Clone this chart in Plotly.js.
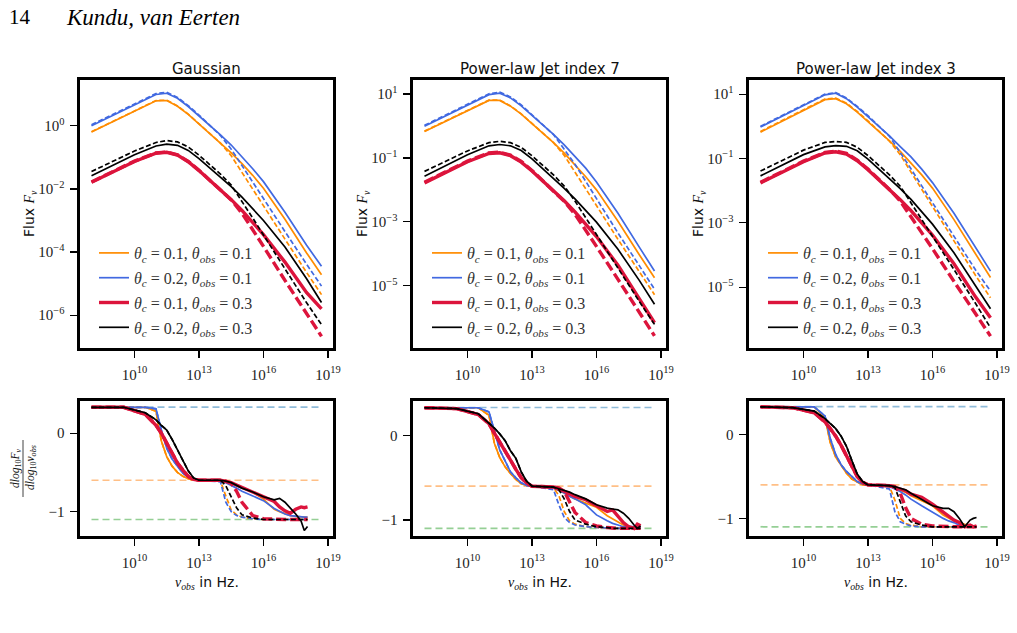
<!DOCTYPE html>
<html>
<head>
<meta charset="utf-8">
<script src="https://cdn.plot.ly/plotly-3.0.1.min.js"></script>
<style>
  html, body { margin: 0; padding: 0; background: #fff; }
  #fig { width: 1017px; height: 633px; }
</style>
</head>
<body>
<div id="fig"></div>
<script>
// ---------------------------------------------------------------------------
// Spectra: log10 of observed frequency (Hz) and log10 of flux F_nu.
// Series order in every block: [θc=0.1,θobs=0.1], [θc=0.2,θobs=0.1],
// [θc=0.1,θobs=0.3], [θc=0.2,θobs=0.3]. Solid = full model, dashed = no cooling smoothing.
// ---------------------------------------------------------------------------
const logNuSpectrum = [8, 10, 11, 11.5, 12, 12.5, 13, 14, 14.5, 15, 15.5, 16, 17, 18, 18.7];

const gaussianFluxSolid = [
  [-0.2, 0.46, 0.79, 0.8, 0.62, 0.36, 0.06, -0.54, -0.86, -1.2, -1.57, -1.98, -2.96, -4.02, -4.72],
  [0.0, 0.66, 0.99, 1.03, 0.87, 0.61, 0.32, -0.29, -0.61, -0.97, -1.36, -1.77, -2.74, -3.78, -4.45],
  [-1.79, -1.13, -0.87, -0.84, -0.93, -1.14, -1.42, -2.02, -2.34, -2.68, -3.05, -3.45, -4.32, -5.28, -5.8],
  [-1.58, -0.92, -0.64, -0.58, -0.62, -0.78, -1.04, -1.63, -1.93, -2.26, -2.62, -3.0, -3.84, -4.84, -5.6]
];
const gaussianFluxDashed = [
  [-0.19, 0.47, 0.8, 0.81, 0.63, 0.37, 0.07, -0.55, -0.95, -1.47, -2.0, -2.52, -3.59, -4.64, -5.35],
  [0.03, 0.69, 1.02, 1.06, 0.9, 0.64, 0.34, -0.31, -0.74, -1.26, -1.79, -2.31, -3.35, -4.38, -5.08],
  [-1.78, -1.12, -0.86, -0.83, -0.92, -1.13, -1.41, -2.02, -2.35, -2.77, -3.28, -3.82, -4.9, -5.97, -6.67],
  [-1.45, -0.8, -0.53, -0.47, -0.51, -0.67, -0.93, -1.53, -1.88, -2.38, -2.92, -3.46, -4.55, -5.6, -6.3]
];

const powerLaw7FluxSolid = [
  [-0.17, 0.49, 0.8, 0.8, 0.62, 0.37, 0.08, -0.52, -0.85, -1.21, -1.59, -2.0, -2.98, -4.04, -4.75],
  [-0.01, 0.65, 0.98, 1.03, 0.88, 0.63, 0.34, -0.26, -0.59, -0.94, -1.32, -1.75, -2.73, -3.8, -4.54],
  [-1.78, -1.12, -0.86, -0.84, -0.93, -1.13, -1.41, -2.02, -2.34, -2.69, -3.06, -3.46, -4.36, -5.4, -6.16],
  [-1.57, -0.9, -0.62, -0.58, -0.62, -0.77, -1.03, -1.63, -1.95, -2.28, -2.63, -3.01, -3.86, -4.84, -5.58]
];
const powerLaw7FluxDashed = [
  [-0.16, 0.5, 0.81, 0.81, 0.63, 0.38, 0.09, -0.52, -0.92, -1.43, -1.96, -2.49, -3.55, -4.58, -5.28],
  [0.02, 0.68, 1.01, 1.06, 0.91, 0.66, 0.36, -0.27, -0.73, -1.2, -1.73, -2.27, -3.35, -4.38, -5.11],
  [-1.76, -1.1, -0.84, -0.82, -0.91, -1.11, -1.39, -2.02, -2.36, -2.76, -3.25, -3.77, -4.8, -5.83, -6.57],
  [-1.42, -0.78, -0.52, -0.48, -0.52, -0.67, -0.93, -1.53, -1.88, -2.35, -2.87, -3.4, -4.46, -5.5, -6.21]
];

const powerLaw3FluxSolid = [
  [-0.18, 0.48, 0.83, 0.86, 0.7, 0.44, 0.15, -0.45, -0.78, -1.13, -1.51, -1.92, -2.9, -3.96, -4.7],
  [-0.02, 0.64, 0.98, 1.03, 0.86, 0.6, 0.31, -0.3, -0.63, -0.95, -1.33, -1.75, -2.7, -3.76, -4.5],
  [-1.76, -1.1, -0.83, -0.79, -0.86, -1.07, -1.35, -1.96, -2.28, -2.62, -2.99, -3.38, -4.27, -5.3, -5.95],
  [-1.54, -0.88, -0.64, -0.6, -0.62, -0.76, -1.02, -1.62, -1.94, -2.27, -2.64, -3.04, -3.93, -4.97, -5.67]
];
const powerLaw3FluxDashed = [
  [-0.16, 0.5, 0.85, 0.88, 0.72, 0.46, 0.17, -0.46, -0.88, -1.42, -1.96, -2.5, -3.58, -4.63, -5.33],
  [0.0, 0.66, 1.0, 1.05, 0.88, 0.62, 0.33, -0.31, -0.8, -1.32, -1.85, -2.38, -3.44, -4.46, -5.12],
  [-1.74, -1.08, -0.81, -0.77, -0.84, -1.05, -1.33, -1.96, -2.32, -2.8, -3.3, -3.8, -4.82, -5.82, -6.52],
  [-1.39, -0.74, -0.5, -0.47, -0.5, -0.65, -0.91, -1.51, -1.86, -2.37, -2.9, -3.42, -4.45, -5.5, -6.26]
];

// ---------------------------------------------------------------------------
// Local spectral index d log10 F_nu / d log10 nu_obs
// ---------------------------------------------------------------------------
const logNuSlope = [8, 9.5, 10.5, 11, 11.25, 11.5, 11.75, 12, 12.25, 12.5, 12.75, 13,
                    14, 14.25, 14.5, 14.75, 15, 15.5, 16, 16.5, 16.75, 17, 17.25, 17.5, 17.75, 17.9, 18.05];

const gaussianSlopeSolid = [
  [0.33, 0.33, 0.33, 0.28, -0.1, -0.3, -0.42, -0.5, -0.55, -0.58, -0.6, -0.6, -0.6, -0.61, -0.63, -0.67, -0.7, -0.75, -0.84, -0.97, -1.0, -1.03, -1.05, -1.06, -1.07, -1.07, -1.07],
  [0.33, 0.33, 0.33, 0.31, 0.04, -0.19, -0.33, -0.42, -0.51, -0.56, -0.59, -0.6, -0.61, -0.63, -0.66, -0.7, -0.74, -0.8, -0.86, -0.96, -1.0, -1.03, -1.05, -1.06, -1.07, -1.07, -1.07],
  [0.33, 0.33, 0.24, 0.1, 0.0, -0.12, -0.26, -0.38, -0.47, -0.55, -0.59, -0.6, -0.6, -0.61, -0.63, -0.66, -0.69, -0.76, -0.82, -0.87, -0.94, -0.99, -1.02, -0.97, -0.94, -0.95, -0.94],
  [0.33, 0.33, 0.26, 0.17, 0.1, 0.04, -0.08, -0.22, -0.36, -0.48, -0.57, -0.6, -0.6, -0.61, -0.63, -0.67, -0.7, -0.75, -0.81, -0.85, -0.83, -0.88, -0.95, -1.03, -1.12, -1.24, -1.19]
];
const gaussianSlopeDashed = [
  [0.33, 0.33, 0.33, 0.28, -0.1, -0.3, -0.42, -0.5, -0.55, -0.58, -0.6, -0.6, -0.61, -0.8, -0.98, -1.04, -1.07, -1.09, -1.1, -1.1, -1.1, -1.1, -1.1, -1.1, -1.1, -1.1, -1.1],
  [0.33, 0.33, 0.33, 0.31, 0.04, -0.19, -0.33, -0.42, -0.51, -0.56, -0.59, -0.6, -0.62, -0.88, -1.0, -1.05, -1.07, -1.09, -1.1, -1.1, -1.1, -1.1, -1.1, -1.1, -1.1, -1.1, -1.1],
  [0.33, 0.33, 0.24, 0.1, 0.0, -0.12, -0.26, -0.38, -0.47, -0.55, -0.59, -0.6, -0.6, -0.61, -0.64, -0.74, -0.88, -1.05, -1.09, -1.1, -1.1, -1.1, -1.1, -1.1, -1.1, -1.1, -1.1],
  [0.33, 0.33, 0.26, 0.17, 0.1, 0.04, -0.08, -0.22, -0.36, -0.48, -0.57, -0.6, -0.6, -0.67, -0.81, -0.95, -1.04, -1.08, -1.1, -1.1, -1.1, -1.1, -1.1, -1.1, -1.1, -1.1, -1.1]
];

const powerLaw7SlopeSolid = [
  [0.33, 0.33, 0.33, 0.24, -0.09, -0.26, -0.37, -0.45, -0.52, -0.57, -0.59, -0.6, -0.62, -0.65, -0.68, -0.72, -0.75, -0.8, -0.85, -0.95, -0.99, -1.03, -1.06, -1.08, -1.09, -1.09, -1.1],
  [0.33, 0.33, 0.33, 0.28, 0.07, -0.17, -0.3, -0.43, -0.5, -0.56, -0.59, -0.6, -0.62, -0.65, -0.68, -0.72, -0.75, -0.82, -0.94, -1.01, -1.04, -1.06, -1.08, -1.08, -1.08, -1.08, -1.09],
  [0.33, 0.32, 0.25, 0.14, 0.03, -0.08, -0.2, -0.29, -0.4, -0.5, -0.56, -0.6, -0.61, -0.63, -0.66, -0.69, -0.72, -0.76, -0.83, -0.9, -0.88, -0.95, -1.03, -1.08, -1.1, -1.05, -1.07],
  [0.33, 0.32, 0.26, 0.15, 0.09, 0.02, -0.06, -0.18, -0.27, -0.43, -0.54, -0.6, -0.61, -0.63, -0.65, -0.67, -0.7, -0.75, -0.82, -0.86, -0.87, -0.88, -0.92, -0.98, -1.06, -1.1, -1.07]
];
const powerLaw7SlopeDashed = [
  [0.33, 0.33, 0.33, 0.24, -0.09, -0.26, -0.37, -0.45, -0.52, -0.57, -0.59, -0.6, -0.62, -0.71, -0.9, -1.01, -1.05, -1.08, -1.09, -1.1, -1.1, -1.1, -1.1, -1.1, -1.1, -1.1, -1.1],
  [0.33, 0.33, 0.33, 0.28, 0.07, -0.17, -0.3, -0.43, -0.5, -0.56, -0.59, -0.6, -0.64, -0.82, -0.97, -1.03, -1.06, -1.08, -1.09, -1.1, -1.1, -1.1, -1.1, -1.1, -1.1, -1.1, -1.1],
  [0.33, 0.32, 0.25, 0.14, 0.03, -0.08, -0.2, -0.29, -0.4, -0.5, -0.56, -0.6, -0.61, -0.62, -0.66, -0.79, -0.91, -1.03, -1.07, -1.09, -1.1, -1.1, -1.1, -1.1, -1.1, -1.1, -1.1],
  [0.33, 0.32, 0.26, 0.15, 0.09, 0.02, -0.06, -0.18, -0.27, -0.43, -0.54, -0.6, -0.61, -0.64, -0.75, -0.9, -1.0, -1.05, -1.08, -1.09, -1.1, -1.1, -1.1, -1.1, -1.1, -1.1, -1.1]
];

const powerLaw3SlopeSolid = [
  [0.33, 0.33, 0.33, 0.2, -0.1, -0.27, -0.37, -0.46, -0.53, -0.57, -0.6, -0.6, -0.61, -0.63, -0.66, -0.69, -0.73, -0.79, -0.85, -0.96, -1.0, -1.03, -1.05, -1.07, -1.08, -1.09, -1.1],
  [0.33, 0.33, 0.33, 0.22, -0.05, -0.24, -0.36, -0.44, -0.5, -0.56, -0.59, -0.6, -0.62, -0.65, -0.68, -0.72, -0.77, -0.85, -0.93, -1.0, -1.03, -1.05, -1.08, -1.09, -1.1, -1.1, -1.1],
  [0.33, 0.32, 0.26, 0.15, 0.07, -0.02, -0.13, -0.26, -0.38, -0.5, -0.57, -0.6, -0.61, -0.63, -0.65, -0.67, -0.71, -0.75, -0.83, -0.93, -0.98, -1.02, -1.05, -1.1, -1.08, -1.1, -1.09],
  [0.33, 0.32, 0.28, 0.19, 0.13, 0.07, -0.02, -0.14, -0.31, -0.47, -0.56, -0.6, -0.61, -0.62, -0.64, -0.66, -0.7, -0.77, -0.85, -0.88, -0.88, -0.92, -1.0, -1.1, -1.02, -1.0, -0.99]
];
const powerLaw3SlopeDashed = [
  [0.33, 0.33, 0.33, 0.2, -0.1, -0.27, -0.37, -0.46, -0.53, -0.57, -0.6, -0.6, -0.62, -0.78, -1.0, -1.06, -1.08, -1.1, -1.1, -1.1, -1.1, -1.1, -1.1, -1.1, -1.1, -1.1, -1.1],
  [0.33, 0.33, 0.33, 0.22, -0.05, -0.24, -0.36, -0.44, -0.5, -0.56, -0.59, -0.6, -0.65, -0.92, -1.04, -1.07, -1.09, -1.1, -1.1, -1.1, -1.1, -1.1, -1.1, -1.1, -1.1, -1.1, -1.1],
  [0.33, 0.32, 0.26, 0.15, 0.07, -0.02, -0.13, -0.26, -0.38, -0.5, -0.57, -0.6, -0.61, -0.62, -0.7, -0.87, -1.0, -1.07, -1.09, -1.1, -1.1, -1.1, -1.1, -1.1, -1.1, -1.1, -1.1],
  [0.33, 0.32, 0.28, 0.19, 0.13, 0.07, -0.02, -0.14, -0.31, -0.47, -0.56, -0.6, -0.61, -0.63, -0.8, -0.97, -1.04, -1.08, -1.1, -1.1, -1.1, -1.1, -1.1, -1.1, -1.1, -1.1, -1.1]
];

// Asymptotic synchrotron indices: 1/3, -(p-1)/2, -p/2 for p = 2.2
const refSlopes = [0.333, -0.6, -1.1];
const refLogNu = [8, 18.7];

const seriesLabels = [
  '<i>θ</i><sub><i>c</i></sub> = 0.1, <i>θ</i><sub><i>obs</i></sub> = 0.1',
  '<i>θ</i><sub><i>c</i></sub> = 0.2, <i>θ</i><sub><i>obs</i></sub> = 0.1',
  '<i>θ</i><sub><i>c</i></sub> = 0.1, <i>θ</i><sub><i>obs</i></sub> = 0.3',
  '<i>θ</i><sub><i>c</i></sub> = 0.2, <i>θ</i><sub><i>obs</i></sub> = 0.3'
];
const panelTitles = ['Gaussian', 'Power-law Jet index 7', 'Power-law Jet index 3'];
const fluxTickExpGaussian = [0, -2, -4, -6];
const fluxTickExpPowerLaw = [1, -1, -3, -5];
const nuTickExp = [10, 13, 16, 19];
const slopeTicks = [0, -1];

// ---------------------------------------------------------------------------
// Styling
// ---------------------------------------------------------------------------
const W = 1017, H = 633;
const SERIES_COLORS = ['#ff8c00', '#4169e1', '#dc143c', '#000000'];
const SERIES_WIDTHS = [1.7, 1.7, 3.4, 1.7];
const SERIES_DASH = ['5px,2.5px', '5px,2.5px', '10px,4px', '5px,2.5px'];
const REF_COLORS = ['rgba(31,119,180,0.5)', 'rgba(255,127,14,0.5)', 'rgba(44,160,44,0.5)'];
const SERIF = 'Liberation Serif, DejaVu Serif, serif';
const SANS = 'DejaVu Sans, Liberation Sans, sans-serif';

const colPx = [[80, 333], [413, 666], [749, 1002]];
const topPx = [80, 348];
const botPx = [401, 536];
const xRangeLog = [7.465, 19.235];

const panels = [
  { fluxSolid: gaussianFluxSolid, fluxDashed: gaussianFluxDashed,
    slopeSolid: gaussianSlopeSolid, slopeDashed: gaussianSlopeDashed,
    fluxRange: [-7.04, 1.45], fluxTicks: fluxTickExpGaussian, slopeRange: [-1.31, 0.41] },
  { fluxSolid: powerLaw7FluxSolid, fluxDashed: powerLaw7FluxDashed,
    slopeSolid: powerLaw7SlopeSolid, slopeDashed: powerLaw7SlopeDashed,
    fluxRange: [-6.95, 1.44], fluxTicks: fluxTickExpPowerLaw, slopeRange: [-1.19, 0.41] },
  { fluxSolid: powerLaw3FluxSolid, fluxDashed: powerLaw3FluxDashed,
    slopeSolid: powerLaw3SlopeSolid, slopeDashed: powerLaw3SlopeDashed,
    fluxRange: [-6.89, 1.44], fluxTicks: fluxTickExpPowerLaw, slopeRange: [-1.21, 0.40] }
];

const pow10 = v => Math.pow(10, v);
const sup = e => '10<sup>' + String(e).replace('-', '−') + '</sup>';
const hx = (a, b) => [a / W, b / W];
const vy = (t, b) => [1 - b / H, 1 - t / H];

function frameAxis(extra) {
  return Object.assign({
    showline: true, mirror: true, linewidth: 2.6, linecolor: '#000',
    ticks: 'outside', ticklen: 7, tickwidth: 1.2, tickcolor: '#000',
    showgrid: false, zeroline: false, fixedrange: true,
    tickfont: { family: SERIF, size: 15, color: '#222' }
  }, extra);
}

const traces = [];
const layout = {
  width: W, height: H,
  margin: { l: 0, r: 0, t: 0, b: 0 },
  paper_bgcolor: '#fff', plot_bgcolor: '#fff',
  showlegend: true,
  annotations: [], shapes: []
};

panels.forEach((p, k) => {
  const nTop = k + 1, nBot = k + 4;
  const xTop = nTop === 1 ? 'x' : 'x' + nTop, yTop = nTop === 1 ? 'y' : 'y' + nTop;
  const xBot = 'x' + nBot, yBot = 'y' + nBot;
  const legendId = k === 0 ? 'legend' : 'legend' + (k + 1);

  layout[nTop === 1 ? 'xaxis' : 'xaxis' + nTop] = frameAxis({
    type: 'log', range: xRangeLog, domain: hx(colPx[k][0], colPx[k][1]), anchor: yTop,
    tickvals: nuTickExp.map(pow10), ticktext: nuTickExp.map(sup), ticklabelstandoff: 4
  });
  layout[nTop === 1 ? 'yaxis' : 'yaxis' + nTop] = frameAxis({
    type: 'log', range: p.fluxRange, domain: vy(topPx[0], topPx[1]), anchor: xTop,
    tickvals: p.fluxTicks.map(pow10), ticktext: p.fluxTicks.map(sup), ticklabelstandoff: 3
  });
  layout['xaxis' + nBot] = frameAxis({
    type: 'log', range: xRangeLog, domain: hx(colPx[k][0], colPx[k][1]), anchor: yBot,
    tickvals: nuTickExp.map(pow10), ticktext: nuTickExp.map(sup), ticklabelstandoff: 4
  });
  layout['yaxis' + nBot] = frameAxis({
    range: p.slopeRange, domain: vy(botPx[0], botPx[1]), anchor: xBot,
    tickvals: slopeTicks, ticktext: slopeTicks.map(v => String(v).replace('-', '−')),
    ticklabelstandoff: 3
  });

  // Spectra
  for (let s = 0; s < 4; s++) {
    traces.push({
      type: 'scatter', mode: 'lines', xaxis: xTop, yaxis: yTop,
      x: logNuSpectrum.map(pow10), y: p.fluxSolid[s].map(pow10),
      line: { color: SERIES_COLORS[s], width: SERIES_WIDTHS[s] },
      name: seriesLabels[s], legend: legendId, legendgroup: 'g' + k + s,
      showlegend: true, hoverinfo: 'skip'
    });
    traces.push({
      type: 'scatter', mode: 'lines', xaxis: xTop, yaxis: yTop,
      x: logNuSpectrum.map(pow10), y: p.fluxDashed[s].map(pow10),
      line: { color: SERIES_COLORS[s], width: SERIES_WIDTHS[s], dash: SERIES_DASH[s] },
      legend: legendId, legendgroup: 'g' + k + s, showlegend: false, hoverinfo: 'skip'
    });
  }

  // Reference slopes
  refSlopes.forEach((v, r) => {
    traces.push({
      type: 'scatter', mode: 'lines', xaxis: xBot, yaxis: yBot,
      x: refLogNu.map(pow10), y: refLogNu.map(() => v),
      line: { color: REF_COLORS[r], width: 1.7, dash: '7px,4px' },
      showlegend: false, hoverinfo: 'skip'
    });
  });

  // Spectral index
  for (let s = 0; s < 4; s++) {
    traces.push({
      type: 'scatter', mode: 'lines', xaxis: xBot, yaxis: yBot,
      x: logNuSlope.map(pow10), y: p.slopeSolid[s],
      line: { color: SERIES_COLORS[s], width: SERIES_WIDTHS[s] },
      showlegend: false, hoverinfo: 'skip'
    });
    traces.push({
      type: 'scatter', mode: 'lines', xaxis: xBot, yaxis: yBot,
      x: logNuSlope.map(pow10), y: p.slopeDashed[s],
      line: { color: SERIES_COLORS[s], width: SERIES_WIDTHS[s], dash: SERIES_DASH[s] },
      showlegend: false, hoverinfo: 'skip'
    });
  }

  layout[legendId] = {
    x: (colPx[k][0] + 14) / W, y: 1 - 236 / H, xanchor: 'left', yanchor: 'top',
    bgcolor: 'rgba(0,0,0,0)', borderwidth: 0, tracegroupgap: 1,
    font: { family: SERIF, size: 16, color: '#333' }
  };

  const cx = (colPx[k][0] + colPx[k][1]) / 2 / W;
  // Panel title
  layout.annotations.push({
    xref: 'paper', yref: 'paper', x: cx, y: 1 - 69 / H, xanchor: 'center', yanchor: 'middle',
    text: panelTitles[k], showarrow: false, font: { family: SANS, size: 15, color: '#111' }
  });
  // Flux axis label
  layout.annotations.push({
    xref: 'paper', yref: 'paper', x: (colPx[k][0] - 50) / W, y: 1 - 214 / H,
    xanchor: 'center', yanchor: 'middle', textangle: -90, showarrow: false,
    text: 'Flux <span style="font-family:Liberation Serif"><i>F</i><sub><i>ν</i></sub></span>',
    font: { family: SANS, size: 14, color: '#111' }
  });
  // Frequency axis label
  layout.annotations.push({
    xref: 'paper', yref: 'paper', x: cx, y: 1 - 583 / H, xanchor: 'center', yanchor: 'middle',
    showarrow: false,
    text: '<span style="font-family:Liberation Serif"><i>ν</i><sub><i>obs</i></sub></span> in Hz.',
    font: { family: SANS, size: 14, color: '#111' }
  });
});

// Spectral-index axis label (fraction, rotated)
layout.annotations.push({
  xref: 'paper', yref: 'paper', x: 16 / W, y: 1 - 468 / H, xanchor: 'center', yanchor: 'middle',
  textangle: -90, showarrow: false,
  text: '<i>dlog</i><sub>10</sub><i>F</i><sub><i>ν</i></sub>',
  font: { family: SERIF, size: 11.5, color: '#111' }
});
layout.annotations.push({
  xref: 'paper', yref: 'paper', x: 31 / W, y: 1 - 468 / H, xanchor: 'center', yanchor: 'middle',
  textangle: -90, showarrow: false,
  text: '<i>dlog</i><sub>10</sub><i>ν</i><sub><i>obs</i></sub>',
  font: { family: SERIF, size: 11.5, color: '#111' }
});
layout.shapes.push({
  type: 'line', xref: 'paper', yref: 'paper',
  x0: 23 / W, x1: 23 / W, y0: 1 - 440 / H, y1: 1 - 497 / H,
  line: { color: '#111', width: 0.8 }
});

// Running header
layout.annotations.push({
  xref: 'paper', yref: 'paper', x: 7 / W, y: 1 - 17 / H, xanchor: 'left', yanchor: 'middle',
  showarrow: false, text: '14', font: { family: SERIF, size: 21, color: '#000' }
});
layout.annotations.push({
  xref: 'paper', yref: 'paper', x: 64 / W, y: 1 - 17 / H, xanchor: 'left', yanchor: 'middle',
  showarrow: false, text: '<i>Kundu, van Eerten</i>', font: { family: SERIF, size: 23, color: '#000' }
});

Plotly.newPlot('fig', traces, layout, { staticPlot: true, displayModeBar: false });
</script>
</body>
</html>
